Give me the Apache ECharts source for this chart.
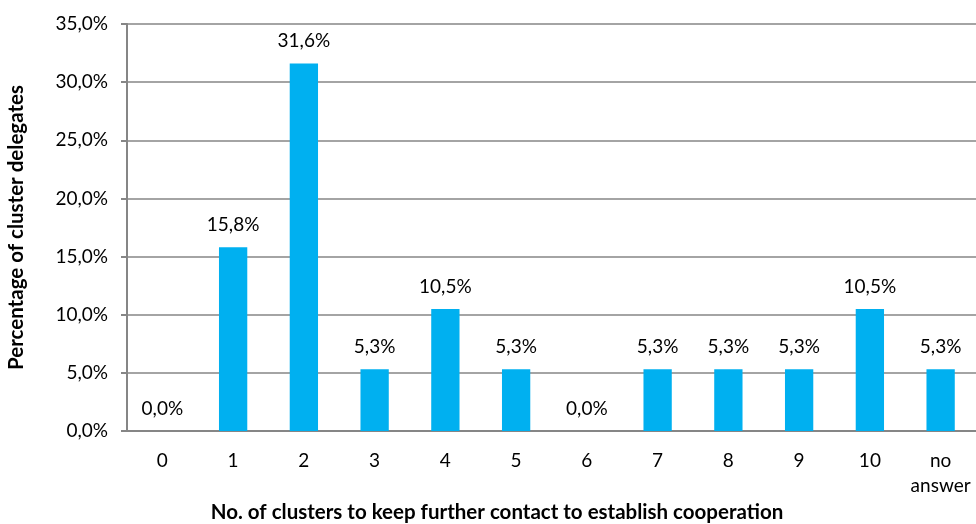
<!DOCTYPE html>
<html><head><meta charset="utf-8">
<script src="https://cdn.jsdelivr.net/npm/echarts@6/dist/echarts.min.js"></script>
<style>html,body{margin:0;padding:0;background:#fff}#c{width:976px;height:524px}</style>
</head><body><div id="c"></div>
<script>
const categories = ['0','1','2','3','4','5','6','7','8','9','10','no\nanswer'];
const values = [0, 15.8, 31.6, 5.3, 10.5, 5.3, 0, 5.3, 5.3, 5.3, 10.5, 5.3];
const yTicks = [0, 5, 10, 15, 20, 25, 30, 35];
const yTitle = 'Percentage of cluster delegates';
const xTitle = 'No. of clusters to keep further contact to establish cooperation';
const FONT = 'Lato, "Open Sans", sans-serif';
const fmt = v => v.toFixed(1).replace('.', ',') + '%';
const chart = echarts.init(document.getElementById('c'));
chart.setOption({
  animation: false,
  title: {
    text: xTitle, left: 492, top: 497, textAlign: 'center',
    textStyle: { fontFamily: FONT, fontSize: 20.5, fontWeight: 'bold', color: '#000' }
  },
  grid: { left: 127, right: 0, top: 24, bottom: 93, containLabel: false, outerBoundsMode: 'none' },
  xAxis: {
    type: 'category', data: categories,
    axisLine: { lineStyle: { color: '#868686', width: 2 } },
    axisTick: { show: false },
    axisLabel: { fontFamily: FONT, fontSize: 19, color: '#000', margin: 17, lineHeight: 25, interval: 0 }
  },
  yAxis: {
    type: 'value', min: yTicks[0], max: yTicks[yTicks.length - 1], interval: 5,
    name: yTitle, nameLocation: 'middle', nameGap: 100,
    nameTextStyle: { fontFamily: FONT, fontSize: 20.5, fontWeight: 'bold', color: '#000' },
    axisLine: { show: true, lineStyle: { color: '#868686', width: 2 } },
    axisTick: { show: true, length: 6, lineStyle: { color: '#868686', width: 2 } },
    splitLine: { lineStyle: { color: '#868686', width: 1.5 } },
    axisLabel: { fontFamily: FONT, fontSize: 19, color: '#000', margin: 19, formatter: v => fmt(v) }
  },
  series: [{
    type: 'bar', data: values, barWidth: '40%',
    itemStyle: { color: '#00B0F0' },
    label: {
      show: true, position: 'top', distance: 13,
      fontFamily: FONT, fontSize: 19, color: '#000',
      formatter: p => fmt(p.value)
    }
  }]
});
</script></body></html>
